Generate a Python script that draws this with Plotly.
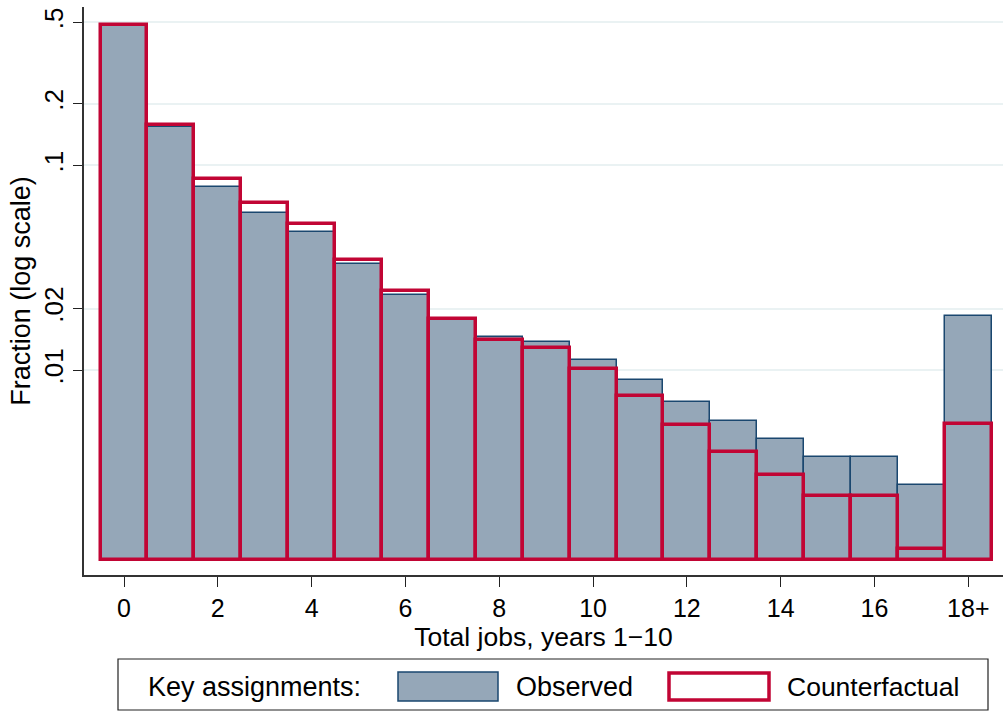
import plotly.graph_objects as go

# Distribution of total jobs held in years 1-10 (fractions, log scale)
jobs = list(range(19))
tick_vals = [0, 2, 4, 6, 8, 10, 12, 14, 16, 18]
tick_text = ["0", "2", "4", "6", "8", "10", "12", "14", "16", "18+"]

observed = [0.480, 0.155, 0.0787, 0.0588, 0.0476, 0.0330, 0.0234, 0.0175,
            0.0145, 0.0137, 0.0112, 0.0090, 0.0070, 0.00565, 0.00459,
            0.00378, 0.00378, 0.00274, 0.0184]
counterfactual = [0.483, 0.158, 0.0856, 0.0654, 0.0519, 0.0347, 0.0243,
                  0.0178, 0.0140, 0.0129, 0.0101, 0.00748, 0.00543, 0.00397,
                  0.00308, 0.00243, 0.00243, 0.00134, 0.00549]

y_tick_vals = [0.01, 0.02, 0.1, 0.2, 0.5]
y_tick_text = [".01", ".02", ".1", ".2", ".5"]

BASE = 0.00119  # floor the histogram bars rise from

NAVY = "#1a476f"
FILL = "#95a7b8"
CRANBERRY = "#c10534"
FONT = "Liberation Sans, Arial, sans-serif"

W, H = 1003, 712
ML, MR, MT, MB = 84, 0, 7, 137
PW, PH = W - ML - MR, H - MT - MB


def px(x):
    return (x - ML) / PW


def py(y):
    return (H - MB - y) / PH


fig = go.Figure()
fig.add_trace(go.Bar(
    x=jobs, y=[v - BASE for v in observed], base=BASE, width=1,
    marker=dict(color=FILL, line=dict(color=NAVY, width=1.5)),
    name="Observed", showlegend=False,
))
fig.add_trace(go.Bar(
    x=jobs, y=[v - BASE for v in counterfactual], base=BASE, width=1,
    marker=dict(color="rgba(0,0,0,0)", line=dict(color=CRANBERRY, width=3.5)),
    name="Counterfactual", showlegend=False,
))

fig.update_layout(
    width=W, height=H,
    margin=dict(l=ML, r=MR, t=MT, b=MB, pad=0),
    paper_bgcolor="white", plot_bgcolor="white",
    barmode="overlay", bargap=0,
    font=dict(family=FONT, size=25, color="black"),
    xaxis=dict(
        range=[-0.853, 18.74], tickvals=tick_vals, ticktext=tick_text,
        ticks="outside", ticklen=10, tickwidth=1.2, tickcolor="#222",
        showline=True, linecolor="#333", linewidth=1.5, showgrid=False,
        zeroline=False, tickfont=dict(size=25),
        title=dict(text="Total jobs, years 1\u221210", font=dict(size=26.5), standoff=2),
    ),
    yaxis=dict(
        type="log", range=[-3.0, -0.226],
        tickvals=y_tick_vals, ticktext=y_tick_text, tickangle=-90,
        ticks="outside", ticklen=9, tickwidth=1.2, tickcolor="#222",
        showline=True, linecolor="#333", linewidth=1.5,
        showgrid=True, gridcolor="#eaf2f3", gridwidth=2,
        zeroline=False, tickfont=dict(size=26),
        title=dict(text="Fraction (log scale)", font=dict(size=27), standoff=0),
    ),
)

# Key box below the plot
shapes = [
    dict(type="rect", xref="paper", yref="paper",
         x0=px(118), x1=px(988), y0=py(710), y1=py(659),
         line=dict(color="#222", width=1.2), fillcolor="white"),
    dict(type="rect", xref="paper", yref="paper",
         x0=px(398), x1=px(498), y0=py(701), y1=py(672),
         line=dict(color=NAVY, width=1.5), fillcolor=FILL),
    dict(type="rect", xref="paper", yref="paper",
         x0=px(669), x1=px(769), y0=py(700), y1=py(673),
         line=dict(color=CRANBERRY, width=3.5), fillcolor="white"),
]
for s in shapes:
    fig.add_shape(**s)

for text, left, size in [("Key assignments:", 146, 27), ("Observed", 514, 27),
                         ("Counterfactual", 785, 26.5)]:
    fig.add_annotation(text=text, xref="paper", yref="paper",
                       x=px(left), y=py(687), xanchor="left", yanchor="middle",
                       showarrow=False, font=dict(size=size))

fig.write_html("out.html")
